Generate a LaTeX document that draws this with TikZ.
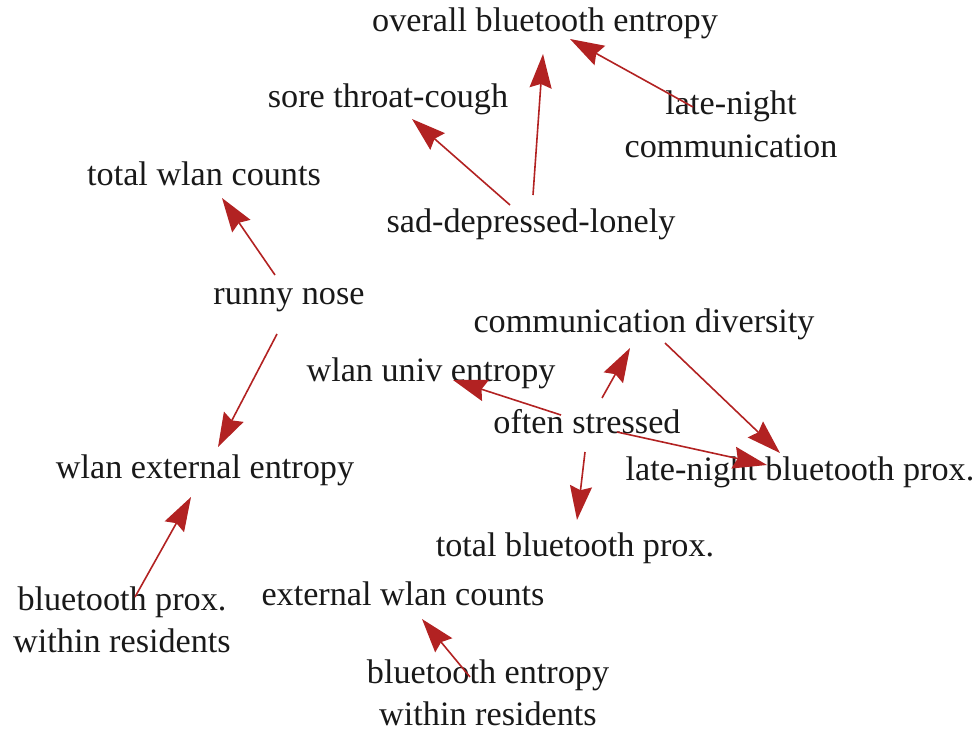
\documentclass[tikz,border=0pt]{standalone}
\usepackage{fontspec}
\setmainfont{Liberation Serif}
\usetikzlibrary{arrows.meta}
\definecolor{edgered}{RGB}{178,34,34}
\tikzset{
  lbl/.style={anchor=base, inner sep=0pt, align=center, text=black!90,
    font=\fontsize{17.1pt}{21pt}\selectfont},
  edge/.style={draw=edgered, line width=0.8pt,
    -{Stealth[length=17pt, width=11pt, inset=2pt, fill=edgered]}},
}
\begin{document}
\begin{tikzpicture}[x=0.5pt, y=-0.5pt]
\useasboundingbox (0,0) rectangle (979,733);
\node[lbl] (obe) at (545,32) {overall bluetooth entropy};
\node[lbl] (stc) at (388,107) {sore throat-cough};
\node[lbl] (lnc) at (731,157) {late-night\\communication};
\node[lbl] (twc) at (204,185) {total wlan counts};
\node[lbl] (sdl) at (531,232) {sad-depressed-lonely};
\node[lbl] (rn) at (289,304) {runny nose};
\node[lbl] (cd) at (644,332) {communication diversity};
\node[lbl] (wue) at (431,381) {wlan univ entropy};
\node[lbl] (os) at (587,433) {often stressed};
\node[lbl] (wee) at (205,478) {wlan external entropy};
\node[lbl] (lnbp) at (800,480) {late-night bluetooth prox.};
\node[lbl] (tbp) at (575,556) {total bluetooth prox.};
\node[lbl] (bpwr) at (122,652) {bluetooth prox.\\within residents};
\node[lbl] (ewc) at (403,605) {external wlan counts};
\node[lbl] (bewr) at (488,725) {bluetooth entropy\\within residents};

\draw[edge] ([shift={(-38,-50)}]lnc.base) -- ([shift={(25,7)}]obe.base);
\draw[edge] ([shift={(2,-37)}]sdl.base) -- ([shift={(-2,22)}]obe.base);
\draw[edge] ([shift={(-21,-27)}]sdl.base) -- ([shift={(24,12)}]stc.base);
\draw[edge] ([shift={(-14,-29)}]rn.base) -- ([shift={(18,13)}]twc.base);
\draw[edge] ([shift={(-12,30)}]rn.base) -- ([shift={(13,-31)}]wee.base);
\draw[edge] ([shift={(13,-55)}]bpwr.base) -- ([shift={(-14,19)}]wee.base);
\draw[edge] ([shift={(-18,-48)}]bewr.base) -- ([shift={(19,14)}]ewc.base);
\draw[edge] ([shift={(-26,-18)}]os.base) -- ([shift={(22,-1)}]wue.base);
\draw[edge] ([shift={(15,-35)}]os.base) -- ([shift={(-14,16)}]cd.base);
\draw[edge] ([shift={(21,11)}]cd.base) -- ([shift={(-20,-27)}]lnbp.base);
\draw[edge] ([shift={(30,-1)}]os.base) -- ([shift={(-33,-15)}]lnbp.base);
\draw[edge] ([shift={(-2,19)}]os.base) -- ([shift={(2,-36)}]tbp.base);
\end{tikzpicture}
\end{document}
